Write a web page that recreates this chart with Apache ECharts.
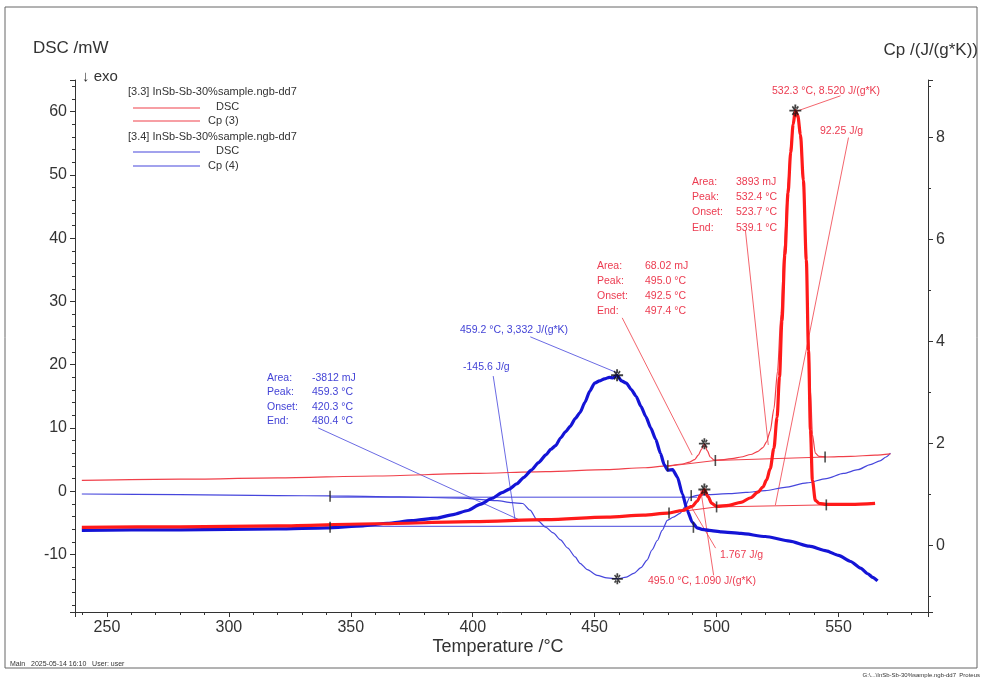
<!DOCTYPE html>
<html>
<head>
<meta charset="utf-8">
<script src="https://cdn.jsdelivr.net/npm/echarts@6/dist/echarts.min.js"></script>
<style>
html,body{margin:0;padding:0;background:#fff;}
#chart{width:982px;height:678px;}
</style>
</head>
<body>
<div id="chart"></div>
<script>
// ---------------- DATA ----------------
// Temperature /°C , DSC /mW  (thin red, [3.3] DSC)
const redDsc = [[239.7,1.7],[280,1.9],[320,2.1],[360,2.4],[400,2.8],[430,3.1],[455,3.4],[470,3.7],[480,4.0],[486,4.3],[489,4.6],[491,5.0],[492.5,5.7],[493.8,6.6],[495,7.5],[496.2,6.4],[497.4,5.4],[499,4.9],[503,5.0],[507,5.2],[510,5.4],[514,5.8],[517,6.3],[519,6.9],[520.5,7.8],[522,9.5],[523.5,13],[525,19],[526.4,28],[527.8,39],[529.3,49],[530.6,55.5],[531.6,58.8],[532.4,59.8],[533.4,58.8],[534.4,55.5],[535.6,48],[536.8,36],[537.7,25],[538.5,16],[539.3,9],[540.5,6.0],[542,5.5],[545,5.4],[555,5.5],[565,5.7],[571.3,5.9]];
// Temperature /°C , Cp /(J/(g*K))  (thick red, Cp (3))
const redCp = [[239.7,0.35],[280,0.36],[320,0.38],[360,0.42],[400,0.46],[430,0.50],[455,0.55],[470,0.59],[480,0.63],[486,0.68],[490,0.76],[492,0.86],[493.5,0.98],[495,1.09],[496.5,0.95],[498,0.82],[500,0.76],[505,0.78],[510,0.84],[514,0.93],[517,1.04],[519,1.14],[520.5,1.28],[522,1.5],[523.5,1.9],[524.8,2.5],[525.8,3.3],[526.8,4.4],[528,5.7],[529.3,6.9],[530.4,7.7],[531.4,8.25],[532.3,8.52],[533.3,8.42],[534.4,8.05],[535.6,7.15],[536.8,5.59],[537.7,3.82],[538.5,2.25],[539.3,1.27],[540.5,0.88],[542,0.82],[545,0.80],[555,0.80],[565,0.82]];
// Temperature /°C , DSC /mW  (thin blue, [3.4] DSC)
const blueDsc = [[239.7,-0.45],[280,-0.55],[320,-0.7],[341.5,-0.75],[370,-0.9],[395,-1.1],[410,-1.5],[416,-1.8],[420.5,-1.95],[423.5,-3.0],[426.5,-4.6],[430,-5.7],[433,-6.6],[436,-7.7],[439,-9.0],[442,-10.4],[444,-11.4],[447,-12.4],[451,-13.3],[455,-13.7],[459.3,-13.85],[463,-13.6],[466,-13.0],[469,-12.1],[471.5,-10.9],[473.5,-9.3],[475.7,-7.8],[477.7,-6.2],[479.8,-4.6],[482.3,-4.1],[485,-3.5],[487,-2.5],[489,-1.0],[492,-0.65],[497,-0.55],[505,-0.4],[512,-0.2],[520,0.1],[528,0.6],[537,1.3],[545,2.0],[552,2.8],[558,3.4],[563,4.2],[567,4.8],[569.5,5.4],[571.3,6.0]];
// Temperature /°C , Cp /(J/(g*K))  (thick blue, Cp (4))
const blueCp = [[239.7,0.29],[260,0.30],[280,0.30],[300,0.31],[320,0.32],[340,0.34],[355,0.38],[365,0.43],[375,0.48],[385,0.53],[392,0.60],[398,0.68],[403,0.80],[408,0.92],[412,1.03],[415,1.10],[418,1.20],[421,1.33],[424,1.47],[427,1.62],[430,1.77],[432,1.88],[434,1.95],[436,2.10],[438,2.22],[440,2.33],[442,2.48],[444,2.60],[446,2.80],[448,3.02],[450,3.18],[452,3.22],[454,3.26],[456,3.29],[457.5,3.28],[459.2,3.33],[461,3.22],[463,3.18],[465,3.05],[467,2.92],[469,2.72],[471,2.52],[473,2.30],[475,2.08],[477,1.80],[478.5,1.58],[480,1.47],[482,1.48],[484,1.33],[486,1.00],[488,0.68],[490,0.45],[492,0.34],[494,0.31],[497,0.29],[502,0.26],[510,0.23],[520,0.17],[530,0.08],[538,-0.02],[545,-0.11],[550,-0.20],[555,-0.32],[559,-0.45],[562,-0.56],[564,-0.63],[566,-0.70]];

// integration baselines
const blueDscBase = [[341.5,-0.95],[492,-0.95]];
const blueCpBase  = [[341.5,0.37],[491,0.37]];
const redDscBase  = [[480,3.95],[499.5,4.85],[544.5,5.4]];
const redCpBase   = [[480.5,0.63],[500,0.75],[545,0.79]];

// peak stars
const starsDsc = [[459.3,-13.85],[495.0,7.5]];
const starsCp  = [[459.2,3.332],[532.3,8.52],[495.0,1.09]];
// integration limit marks
const limitsDsc = [[341.5,-0.8],[480,4.0],[499.5,4.85],[544.5,5.4],[489.6,-0.7]];
const limitsCp  = [[341.5,0.35],[490.5,0.35],[480.5,0.63],[500,0.75],[545,0.79]];

// annotation leader lines (Temperature, DSC)
const redLeaders = [[[550.8,62.5],[533.1,60.1]],[[554.1,55.9],[524.1,-2.2]],[[511.8,41.3],[521.2,7.3]],[[461.3,27.4],[490.0,5.7]],[[499.6,-9.0],[489.2,-2.2]],[[498.8,-13.3],[493.5,0.2]]];
const blueLeaders = [[[423.6,24.4],[459.3,18.7]],[[408.4,18.2],[417.4,-4.6]],[[336.6,10.0],[419.5,-4.6]]];

// texts
const legendFile1 = '[3.3] InSb-Sb-30%sample.ngb-dd7';
const legendFile2 = '[3.4] InSb-Sb-30%sample.ngb-dd7';
const legendNames = ['DSC','Cp (3)','DSC','Cp (4)'];
const redBigBlock = [['Area:','3893 mJ'],['Peak:','532.4 °C'],['Onset:','523.7 °C'],['End:','539.1 °C']];
const redSmallBlock = [['Area:','68.02 mJ'],['Peak:','495.0 °C'],['Onset:','492.5 °C'],['End:','497.4 °C']];
const blueBlock = [['Area:','-3812 mJ'],['Peak:','459.3 °C'],['Onset:','420.3 °C'],['End:','480.4 °C']];

// ---------------- STYLE ----------------
const FONT = '"Liberation Sans", Arial, sans-serif';
const RED = '#ff1a1a', RED_THIN = '#f0404a', RED_TXT = '#ec3b50';
const BLUE = '#1414d6', BLUE_THIN = '#4646dc', BLUE_TXT = '#4343d6';
const AX = '#333';

function txt(t, x, y, color, size, align) {
  return {type:'text', silent:true, style:{text:t, x:x, y:y, fill:color, fontSize:size, fontFamily:FONT, align:align||'left', verticalAlign:'middle'}};
}
function block(rows, x1, x2, y0, dy, color) {
  const out = [];
  rows.forEach((r,i)=>{ out.push(txt(r[0], x1, y0+i*dy, color, 10.5)); out.push(txt(r[1], x2, y0+i*dy, color, 10.5)); });
  return out;
}

const graphics = [
  {type:'rect', silent:true, shape:{x:5,y:7,width:972,height:661}, style:{fill:'none', stroke:'#666', lineWidth:1}},
  txt('DSC /mW', 33, 48, '#333', 17),
  txt('Cp /(J/(g*K))', 978, 50, '#333', 17, 'right'),
  txt('↓ exo', 82, 77, '#333', 15),
  txt('Temperature /°C', 498, 647, '#333', 18, 'center'),
  txt('Main   2025-05-14 16:10   User: user', 10, 664, '#333', 7),
  txt('G:\\...\\InSb-Sb-30%sample.ngb-dd7  Proteus', 980, 675, '#333', 6, 'right'),
  // legend
  txt(legendFile1, 128, 92, '#333', 11),
  {type:'line', silent:true, shape:{x1:133,y1:108,x2:200,y2:108}, style:{stroke:RED_THIN, lineWidth:1.2}},
  txt(legendNames[0], 216, 107, '#333', 11),
  {type:'line', silent:true, shape:{x1:133,y1:121,x2:200,y2:121}, style:{stroke:RED_THIN, lineWidth:1.2}},
  txt(legendNames[1], 208, 121, '#333', 11),
  txt(legendFile2, 128, 137, '#333', 11),
  {type:'line', silent:true, shape:{x1:133,y1:152,x2:200,y2:152}, style:{stroke:BLUE_THIN, lineWidth:1.2}},
  txt(legendNames[2], 216, 151, '#333', 11),
  {type:'line', silent:true, shape:{x1:133,y1:166,x2:200,y2:166}, style:{stroke:BLUE_THIN, lineWidth:1.2}},
  txt(legendNames[3], 208, 166, '#333', 11),
  // red annotations
  txt('532.3 °C, 8.520 J/(g*K)', 772, 91, RED_TXT, 10.5),
  txt('92.25 J/g', 820, 131, RED_TXT, 10.5),
  txt('1.767 J/g', 720, 555, RED_TXT, 10.5),
  txt('495.0 °C, 1.090 J/(g*K)', 648, 581, RED_TXT, 10.5),
  // blue annotations
  txt('459.2 °C, 3,332 J/(g*K)', 460, 330, BLUE_TXT, 10.5),
  txt('-145.6 J/g', 463, 367, BLUE_TXT, 10.5)
].concat(block(redBigBlock, 692, 736, 182, 15.3, RED_TXT))
 .concat(block(redSmallBlock, 597, 645, 266, 15, RED_TXT))
 .concat(block(blueBlock, 267, 312, 378, 14.5, BLUE_TXT));

const starSymbol = 'path://M4.2,0h1.6v10h-1.6z M0,4.2h10v1.6h-10z M2,2l1,-1l5,7l-1,1z M8,2l-1,-1l-5,7l1,1z';

function axisStyle(minorSplit) {
  return {
    axisLine:{show:true, onZero:false, lineStyle:{color:AX, width:1}},
    axisTick:{show:true, length:5, lineStyle:{color:AX}},
    minorTick:{show:true, splitNumber:minorSplit, length:3, lineStyle:{color:AX}},
    splitLine:{show:false},
    axisLabel:{color:'#333', fontSize:16, fontFamily:FONT, margin:8, showMinLabel:false, showMaxLabel:false}
  };
}

const option = {
  animation:false,
  backgroundColor:'#fff',
  grid:{left:75, right:54, top:80, bottom:66},
  xAxis:Object.assign({type:'value', position:'bottom', min:236.9, max:586.7, splitNumber:7}, axisStyle(5)),
  yAxis:[
    Object.assign({type:'value', position:'left', min:-19.1, max:65.0, splitNumber:8}, axisStyle(5)),
    Object.assign({type:'value', position:'right', min:-1.31, max:9.12, splitNumber:5}, axisStyle(2))
  ],
  graphic:graphics,
  series:[
    {type:'line', name:'base1', data:blueDscBase, yAxisIndex:0, showSymbol:false, lineStyle:{color:BLUE_THIN, width:1}, z:1},
    {type:'line', name:'base2', data:blueCpBase, yAxisIndex:1, showSymbol:false, lineStyle:{color:BLUE_THIN, width:1}, z:1},
    {type:'line', name:'base3', data:redDscBase, yAxisIndex:0, showSymbol:false, lineStyle:{color:RED_THIN, width:1}, z:1},
    {type:'line', name:'base4', data:redCpBase, yAxisIndex:1, showSymbol:false, lineStyle:{color:RED_THIN, width:1}, z:1},
    {type:'lines', coordinateSystem:'cartesian2d', xAxisIndex:0, yAxisIndex:0, silent:true, z:2,
      data:redLeaders.map(c=>({coords:c})), lineStyle:{color:RED_THIN, width:0.9, opacity:0.9}},
    {type:'lines', coordinateSystem:'cartesian2d', xAxisIndex:0, yAxisIndex:0, silent:true, z:2,
      data:blueLeaders.map(c=>({coords:c})), lineStyle:{color:BLUE_THIN, width:0.9, opacity:0.9}},
    {type:'line', name:'DSC [3.4]', data:blueDsc, yAxisIndex:0, showSymbol:false, smooth:0.25, smoothMonotone:'x', lineStyle:{color:BLUE_THIN, width:1.2}, z:3},
    {type:'line', name:'DSC [3.3]', data:redDsc, yAxisIndex:0, showSymbol:false, smooth:0.25, smoothMonotone:'x', lineStyle:{color:RED_THIN, width:1.2}, z:3},
    {type:'line', name:'Cp (4)', data:blueCp, yAxisIndex:1, showSymbol:false, smooth:0.2, smoothMonotone:'x', lineStyle:{color:BLUE, width:3.2}, z:4},
    {type:'line', name:'Cp (3)', data:redCp, yAxisIndex:1, showSymbol:false, smooth:0.3, smoothMonotone:'x', lineStyle:{color:RED, width:3.2}, z:5},
    {type:'scatter', data:limitsDsc, yAxisIndex:0, symbol:'rect', symbolSize:[1.6,11], itemStyle:{color:'#222'}, z:6, silent:true},
    {type:'scatter', data:limitsCp, yAxisIndex:1, symbol:'rect', symbolSize:[1.6,11], itemStyle:{color:'#222'}, z:6, silent:true},
    {type:'scatter', data:starsDsc, yAxisIndex:0, symbol:starSymbol, symbolSize:11, itemStyle:{color:'#111'}, z:7, silent:true},
    {type:'scatter', data:starsCp, yAxisIndex:1, symbol:starSymbol, symbolSize:12, itemStyle:{color:'#111'}, z:7, silent:true}
  ]
};

const chart = echarts.init(document.getElementById('chart'), null, {renderer:'canvas'});
chart.setOption(option);
</script>
</body>
</html>
